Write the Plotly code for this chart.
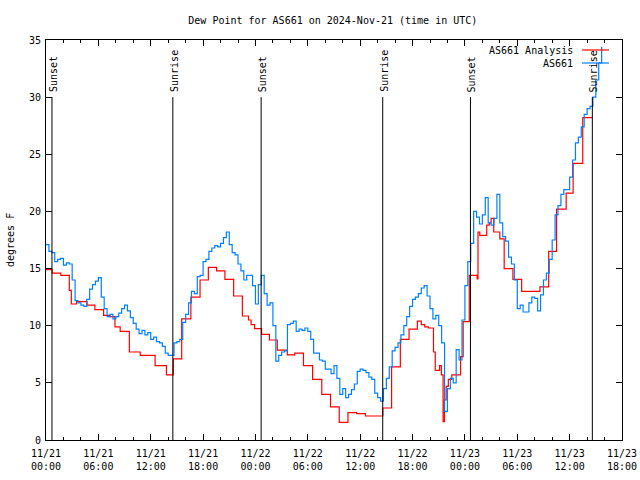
import pandas as pd
import plotly.graph_objects as go

start = pd.Timestamp("2024-11-21 00:00")
x_end = pd.Timestamp("2024-11-23 18:00")

# AS661 observations, one value every 20 minutes from 11/21 00:00 (deg F)
obs_step_min = 20
obs_vals = [
    17.1, 16.5, 16.4, 15.6, 15.8, 15.9, 15.3, 15.5, 15.4, 14.0, 12.2, 12.0,
    11.8, 11.7, 12.3, 13.2, 13.6, 13.9, 14.2, 12.5, 11.5, 10.8, 11.0, 10.6,
    10.8, 11.1, 11.5, 11.8, 11.3, 10.7, 10.2, 9.7, 9.3, 9.6, 9.2, 9.4,
    8.8, 9.0, 8.6, 8.5, 8.2, 7.6, 7.4, 7.4, 8.5, 8.6, 8.8, 10.3,
    11.0, 12.0, 13.0, 12.8, 14.3, 14.4, 15.6, 15.8, 16.5, 16.8, 17.0, 16.9,
    17.2, 17.7, 18.2, 17.1, 16.4, 16.2, 15.4, 14.8, 14.0, 14.4, 14.4, 13.5,
    11.9, 13.6, 14.4, 12.8, 11.8, 12.0, 10.0, 6.9, 7.4, 7.7, 7.8, 10.1,
    10.2, 10.4, 9.5, 9.7, 9.6, 9.8, 9.5, 8.8, 7.6, 7.6, 7.0, 6.9,
    6.2, 6.2, 5.8, 6.5, 5.4, 4.0, 4.5, 3.7, 4.0, 4.4, 4.9, 6.0,
    6.2, 6.1, 5.9, 5.5, 5.3, 4.1, 3.7, 3.4, 4.5, 5.4, 6.4, 7.8,
    8.1, 8.5, 9.2, 10.0, 10.8, 11.7, 12.3, 12.5, 12.8, 13.3, 13.5, 12.6,
    11.5, 10.6, 10.9, 10.0, 8.5, 2.5, 4.5, 5.4, 5.0, 7.9, 7.0, 10.5,
    13.5, 15.6, 17.2, 20.0, 19.5, 18.9, 19.7, 21.2, 19.0, 18.8, 19.4, 21.5,
    19.0, 17.8, 17.4, 16.0, 15.4, 14.0, 11.5, 11.8, 11.2, 11.2, 12.0, 12.5,
    12.4, 11.3, 12.7, 14.0, 14.6, 15.8, 17.5, 19.7, 20.5, 21.5, 21.9, 21.9,
    23.0, 24.5, 26.0, 26.5, 27.4, 28.5, 29.0, 29.2, 30.0, 31.5, 33.0, 34.4,
]

# AS661 Analysis: step changes (hours after 11/21 00:00, value deg F)
ana_hours = [
    0.0, 0.7, 1.7, 2.67, 2.9, 3.5, 4.7, 5.6, 6.6, 7.3, 7.9, 8.5, 9.55, 10.8,
    12.5, 13.8, 14.6, 15.55, 16.6, 17.65, 18.6, 19.55, 20.5, 21.5, 22.5, 23.2,
    23.5, 23.9, 24.7, 25.6, 26.5, 27.65, 28.5, 29.5, 30.55, 31.6, 32.6, 33.6,
    34.6, 35.6, 36.6, 38.6, 39.6, 40.6, 41.6, 42.55, 43.0, 43.4, 43.8, 44.4,
    44.6, 45.1, 45.3, 45.5, 45.65, 45.85, 46.1, 46.5, 47.5, 47.8, 48.5, 49.4,
    49.5, 49.7, 50.5, 50.8, 51.0, 51.3, 52.0, 52.5, 53.5, 54.5, 56.6, 57.6,
    58.5, 59.6, 60.4, 61.5, 62.6,
]
ana_vals = [
    14.9, 14.6, 14.4, 13.1, 11.9, 12.1, 11.8, 11.4, 10.9, 10.8, 9.9, 9.5, 7.7, 7.4,
    6.5, 5.7, 7.1, 10.6, 12.5, 14.0, 15.1, 14.8, 14.06, 12.6, 10.85, 10.5,
    10.1, 9.75, 9.25, 8.75, 7.87, 7.44, 7.6, 6.5, 5.3, 4.0, 2.9, 1.55,
    2.4, 2.3, 2.1, 2.8, 6.4, 8.8, 9.7, 10.4, 10.1, 9.9, 9.8, 7.7,
    6.1, 6.5, 5.7, 1.6, 3.5, 4.7, 5.3, 5.7, 7.3, 10.35, 14.4, 14.1,
    18.2, 17.9, 18.8, 19.0, 19.4, 18.2, 17.6, 15.0, 14.06, 13.0, 13.4, 16.5,
    20.2, 21.6, 24.2, 28.2, 28.2,
]

# Sunrise / sunset markers
sun_times = ["2024-11-21 00:41", "2024-11-21 14:32", "2024-11-22 00:39",
             "2024-11-22 14:35", "2024-11-23 00:38", "2024-11-23 14:36"]
sun_labels = ["Sunset", "Sunrise", "Sunset", "Sunrise", "Sunset", "Sunrise"]
sun_line_top = 30

title = "Dew Point for AS661 on 2024-Nov-21 (time in UTC)"
y_title = "degrees F"
legend_names = ["AS661 Analysis", "AS661"]
colors = ["#ff0000", "#0080ff"]

FONT = "DejaVu Sans Mono, Liberation Mono, monospace"

obs_t = [start + pd.Timedelta(minutes=obs_step_min * i) for i in range(len(obs_vals))]
ana_t = [start + pd.to_timedelta(h, unit="h") for h in ana_hours]

fig = go.Figure()
fig.add_trace(go.Scatter(x=ana_t, y=ana_vals, mode="lines", line_shape="hv",
                         line=dict(color=colors[0], width=1.2), name=legend_names[0]))
fig.add_trace(go.Scatter(x=obs_t, y=obs_vals, mode="lines", line_shape="hv",
                         line=dict(color=colors[1], width=1.2), name=legend_names[1]))

vx, vy = [], []
for t in sun_times:
    vx += [t, t, None]
    vy += [0, sun_line_top, None]
fig.add_trace(go.Scatter(x=vx, y=vy, mode="lines", line=dict(color="black", width=1),
                         showlegend=False, hoverinfo="skip"))

for t, lab in zip(sun_times, sun_labels):
    fig.add_annotation(x=t, y=sun_line_top, text=lab, textangle=-90, showarrow=False,
                       xanchor="center", yanchor="bottom", yshift=3, xshift=1,
                       font=dict(family=FONT, size=10, color="black"))

# legend (gnuplot style: text right-aligned, sample line to the right)
leg_y = [0.975, 0.9425]
for name, c, ly in zip(legend_names, colors, leg_y):
    fig.add_annotation(xref="paper", yref="paper", x=0.919, y=ly, text=name,
                       showarrow=False, xanchor="right", yanchor="middle",
                       font=dict(family=FONT, size=10, color="black"))
    fig.add_shape(type="line", xref="paper", yref="paper", x0=0.9306, x1=0.9774,
                  y0=ly, y1=ly, line=dict(color=c, width=1.2))

# y-axis title as rotated text
fig.add_annotation(xref="paper", yref="paper", x=0, y=0.5, text=y_title, textangle=-90,
                   showarrow=False, xanchor="center", yanchor="middle", xshift=-36,
                   font=dict(family=FONT, size=10, color="black"))

fig.update_layout(
    width=640, height=480,
    margin=dict(l=46, r=18, t=40, b=40, autoexpand=False),
    paper_bgcolor="white", plot_bgcolor="white",
    showlegend=False,
    font=dict(family=FONT, size=10, color="black"),
    title=dict(text=title, x=0.52, xanchor="center", y=1 - 20 / 480, yanchor="middle",
               font=dict(family=FONT, size=10, color="black")),
)
fig.update_xaxes(
    type="date", range=[start, x_end], automargin=False,
    tick0=start, dtick=6 * 3600 * 1000, tickformat="%m/%d<br>%H:%M",
    ticks="inside", ticklen=6, tickcolor="black", tickwidth=1, ticklabelstandoff=4,
    minor=dict(dtick=2 * 3600 * 1000, ticks="inside", ticklen=3, tickcolor="black"),
    showline=True, linecolor="black", linewidth=1, mirror="allticks",
    showgrid=False, zeroline=False,
)
fig.update_yaxes(
    range=[0, 35], dtick=5, tick0=0, automargin=False,
    ticks="inside", ticklen=6, tickcolor="black", tickwidth=1, ticklabelstandoff=2,
    showline=True, linecolor="black", linewidth=1, mirror="allticks",
    showgrid=False, zeroline=False,
)

fig.write_html("out.html", config={"displayModeBar": False},
               post_script="document.body.style.margin='0';")
